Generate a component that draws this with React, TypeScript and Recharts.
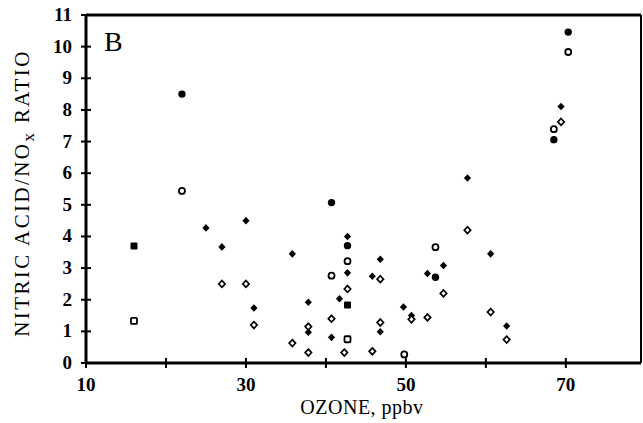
import { ScatterChart, Scatter, XAxis, YAxis, ReferenceLine, Customized } from "recharts"

// ozone (ppbv) vs nitric acid / NOx ratio
const filledCircles = [
  { x: 22, y: 8.5 }, { x: 40.7, y: 5.07 }, { x: 42.7, y: 3.71 },
  { x: 53.7, y: 2.71 }, { x: 68.5, y: 7.06 }, { x: 70.3, y: 10.46 },
]
const openCircles = [
  { x: 22, y: 5.44 }, { x: 40.7, y: 2.76 }, { x: 42.7, y: 3.22 },
  { x: 53.7, y: 3.66 }, { x: 68.5, y: 7.39 }, { x: 70.3, y: 9.83 },
  { x: 49.8, y: 0.27 },
]
const filledDiamonds = [
  { x: 25, y: 4.27 }, { x: 27, y: 3.67 }, { x: 30, y: 4.5 }, { x: 31, y: 1.74 },
  { x: 35.8, y: 3.45 }, { x: 37.8, y: 1.92 }, { x: 37.8, y: 0.97 }, { x: 40.7, y: 0.81 },
  { x: 41.7, y: 2.03 }, { x: 42.7, y: 4.0 }, { x: 42.7, y: 2.85 }, { x: 45.8, y: 2.74 },
  { x: 46.8, y: 3.28 }, { x: 46.8, y: 0.99 }, { x: 49.7, y: 1.77 }, { x: 50.7, y: 1.5 },
  { x: 52.7, y: 2.83 }, { x: 54.7, y: 3.08 }, { x: 57.7, y: 5.85 }, { x: 60.6, y: 3.45 },
  { x: 62.6, y: 1.17 }, { x: 69.4, y: 8.11 },
]
const openDiamonds = [
  { x: 27, y: 2.5 }, { x: 30, y: 2.5 }, { x: 31, y: 1.2 }, { x: 35.8, y: 0.63 },
  { x: 37.8, y: 1.15 }, { x: 37.8, y: 0.33 }, { x: 40.7, y: 1.4 }, { x: 42.3, y: 0.33 },
  { x: 42.7, y: 2.34 }, { x: 45.8, y: 0.37 }, { x: 46.8, y: 2.65 }, { x: 46.8, y: 1.28 },
  { x: 50.7, y: 1.38 }, { x: 52.7, y: 1.44 }, { x: 54.7, y: 2.2 }, { x: 57.7, y: 4.2 },
  { x: 60.6, y: 1.61 }, { x: 62.6, y: 0.74 }, { x: 69.4, y: 7.62 },
]
const filledSquares = [{ x: 16, y: 3.7 }, { x: 42.7, y: 1.83 }]
const openSquares = [{ x: 16, y: 1.33 }, { x: 42.7, y: 0.75 }]

const xTicks = [10, 20, 30, 40, 50, 60, 70]
const xLabels = [10, 30, 50, 70]
const yTicks = [0, 1, 2, 3, 4, 5, 6, 7, 8, 9, 10, 11]

const serif = "'Liberation Serif', 'DejaVu Serif', serif"

function marker(kind: string) {
  return (props: any) => {
    const { cx, cy } = props
    if (cx == null || cy == null) return <g />
    switch (kind) {
      case "fc":
        return <circle cx={cx} cy={cy} r={3.7} fill="#000" />
      case "oc":
        return <circle cx={cx} cy={cy} r={3} fill="#fff" stroke="#000" strokeWidth={1.8} />
      case "fd":
        return <path d={`M${cx},${cy - 3.8}L${cx + 3.6},${cy}L${cx},${cy + 3.8}L${cx - 3.6},${cy}Z`} fill="#000" />
      case "od":
        return (
          <path
            d={`M${cx},${cy - 3.4}L${cx + 3.2},${cy}L${cx},${cy + 3.4}L${cx - 3.2},${cy}Z`}
            fill="#fff"
            stroke="#000"
            strokeWidth={1.7}
          />
        )
      case "fs":
        return <rect x={cx - 3.5} y={cy - 3.5} width={7} height={7} rx={1} fill="#000" />
      default:
        return <rect x={cx - 3} y={cy - 3} width={6} height={6} rx={1} fill="#fff" stroke="#000" strokeWidth={1.8} />
    }
  }
}

function XTick(props: any) {
  const { x, y, payload } = props
  const axisY = y - 6
  return (
    <g>
      <line x1={x} x2={x} y1={axisY - 5} y2={axisY + 5} stroke="#000" strokeWidth={2} />
      {xLabels.includes(payload.value) && (
        <text x={x} y={axisY + 28} textAnchor="middle" fontFamily={serif} fontWeight="bold" fontSize={19} fill="#000">
          {payload.value}
        </text>
      )}
    </g>
  )
}

function YTick(props: any) {
  const { x, y, payload } = props
  const axisX = x + 6
  return (
    <g>
      <line x1={axisX - 5} x2={axisX + 5} y1={y} y2={y} stroke="#000" strokeWidth={2} />
      <text x={axisX - 14} y={y + 6} textAnchor="end" fontFamily={serif} fontWeight="bold" fontSize={19} fill="#000">
        {payload.value}
      </text>
    </g>
  )
}

function Texts() {
  return (
    <g>
      <text x={104} y={51} fontFamily={serif} fontSize={28} fill="#000">B</text>
      <text x={362} y={414} textAnchor="middle" fontFamily={serif} fontSize={20} fill="#000" letterSpacing={0.5}>
        OZONE, ppbv
      </text>
      <text
        transform="translate(29,193) rotate(-90)"
        textAnchor="middle"
        fontFamily={serif}
        fontSize={21}
        letterSpacing={2.4}
        fill="#000"
      >
        NITRIC ACID/NO<tspan dy={5} fontSize={17}>x</tspan>
        <tspan dy={-5}> RATIO</tspan>
      </text>
    </g>
  )
}

export default function App() {
  return (
    <div style={{ position: "absolute", left: 0, top: 0, background: "#fff" }}>
      <ScatterChart width={643} height={423} margin={{ top: 15, right: 2, bottom: 0, left: 0 }}>
        <XAxis
          type="number"
          dataKey="x"
          domain={[10, 79.4]}
          ticks={xTicks}
          interval={0}
          height={60}
          tickSize={6}
          tickMargin={0}
          tickLine={false}
          tick={<XTick />}
          axisLine={{ stroke: "#000", strokeWidth: 3 }}
          allowDataOverflow
        />
        <YAxis
          type="number"
          dataKey="y"
          domain={[0, 11]}
          ticks={yTicks}
          interval={0}
          width={86}
          tickSize={6}
          tickMargin={0}
          tickLine={false}
          tick={<YTick />}
          axisLine={{ stroke: "#000", strokeWidth: 3 }}
          allowDataOverflow
        />
        <ReferenceLine y={11} stroke="#000" strokeWidth={3} />
        <ReferenceLine x={79.4} stroke="#000" strokeWidth={2} />
        <Scatter data={filledCircles} shape={marker("fc")} isAnimationActive={false} />
        <Scatter data={openCircles} shape={marker("oc")} isAnimationActive={false} />
        <Scatter data={filledDiamonds} shape={marker("fd")} isAnimationActive={false} />
        <Scatter data={openDiamonds} shape={marker("od")} isAnimationActive={false} />
        <Scatter data={filledSquares} shape={marker("fs")} isAnimationActive={false} />
        <Scatter data={openSquares} shape={marker("os")} isAnimationActive={false} />
        <Customized component={Texts} />
      </ScatterChart>
    </div>
  )
}
